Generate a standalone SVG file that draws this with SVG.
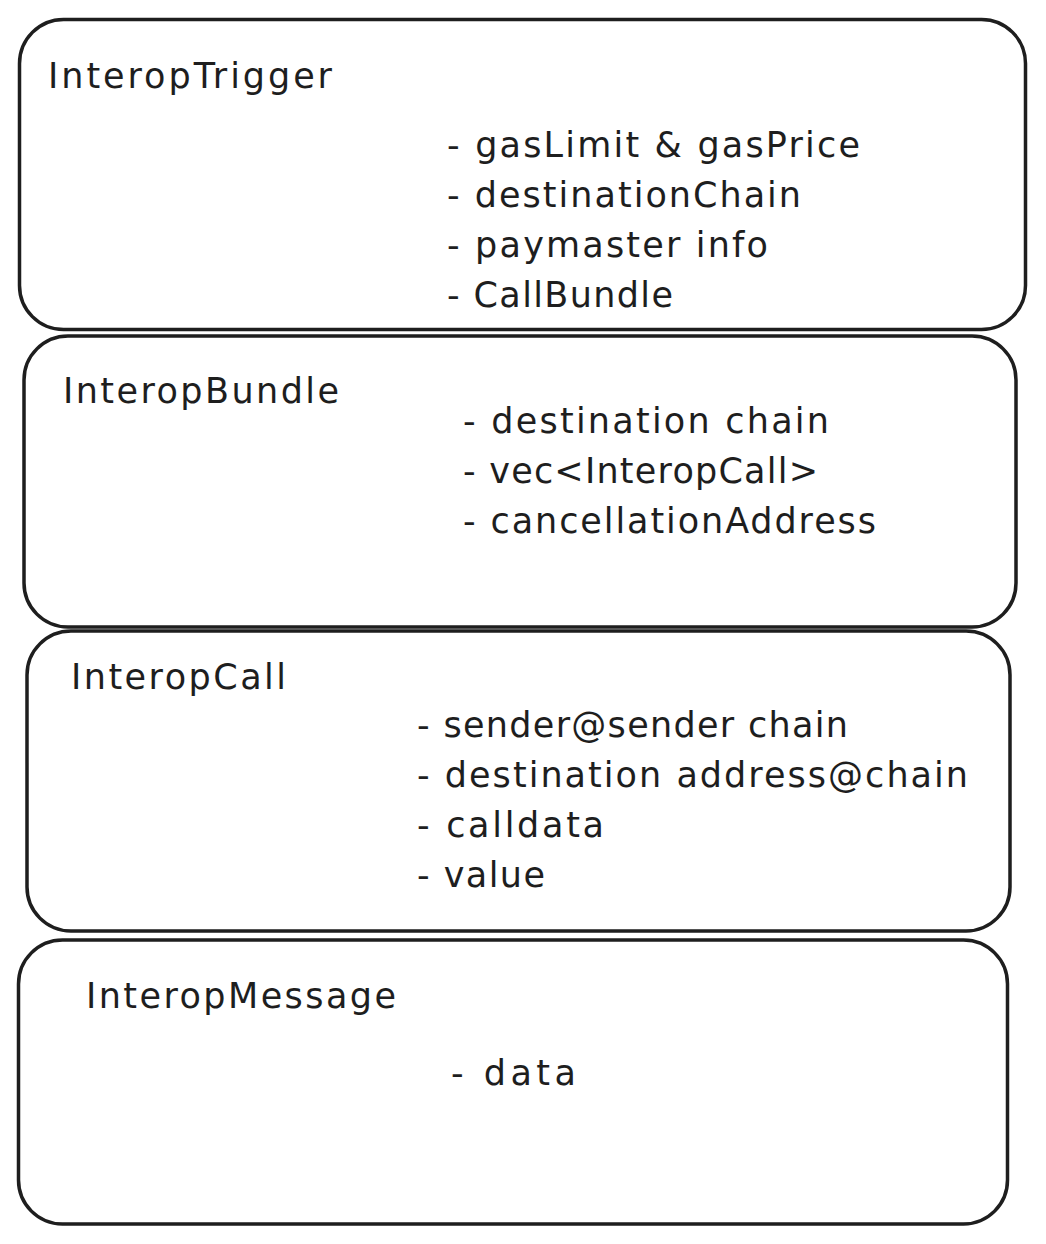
<svg xmlns="http://www.w3.org/2000/svg" width="1046" height="1244" viewBox="0 0 1046 1244">
<style>
.box{fill:#ffffff;stroke:#1e1e1e;stroke-width:3.5;}
.t{font-family:"DejaVu Sans","Liberation Sans",sans-serif;font-size:35px;fill:#1e1e1e;}
</style>
<rect width="1046" height="1244" fill="#ffffff"/>
<g id="interop-trigger">
<rect class="box" x="19.5" y="19.5" width="1006" height="310" rx="44" ry="44"/>
<text class="t" x="48" y="88" textLength="284">InteropTrigger</text>
<text class="t" x="447" y="157" textLength="413">- gasLimit &amp; gasPrice</text>
<text class="t" x="447" y="207" textLength="354">- destinationChain</text>
<text class="t" x="447" y="257" textLength="321">- paymaster info</text>
<text class="t" x="447" y="307" textLength="226">- CallBundle</text>
</g>
<g id="interop-bundle">
<rect class="box" x="24" y="336" width="992" height="291" rx="44" ry="44"/>
<text class="t" x="63" y="403" textLength="276">InteropBundle</text>
<text class="t" x="463" y="433" textLength="366">- destination chain</text>
<text class="t" x="463" y="483" textLength="355">- vec&lt;InteropCall&gt;</text>
<text class="t" x="463" y="533" textLength="413">- cancellationAddress</text>
</g>
<g id="interop-call">
<rect class="box" x="27" y="631" width="983" height="300" rx="44" ry="44"/>
<text class="t" x="71" y="689" textLength="215">InteropCall</text>
<text class="t" x="417" y="737" textLength="431">- sender@sender chain</text>
<text class="t" x="417" y="787" textLength="551">- destination address@chain</text>
<text class="t" x="417" y="837" textLength="187">- calldata</text>
<text class="t" x="417" y="887" textLength="128">- value</text>
</g>
<g id="interop-message">
<rect class="box" x="18.5" y="940" width="989" height="284" rx="44" ry="44"/>
<text class="t" x="86" y="1008" textLength="310">InteropMessage</text>
<text class="t" x="451" y="1085" textLength="125">- data</text>
</g>
<g id="connectors"></g>
</svg>
